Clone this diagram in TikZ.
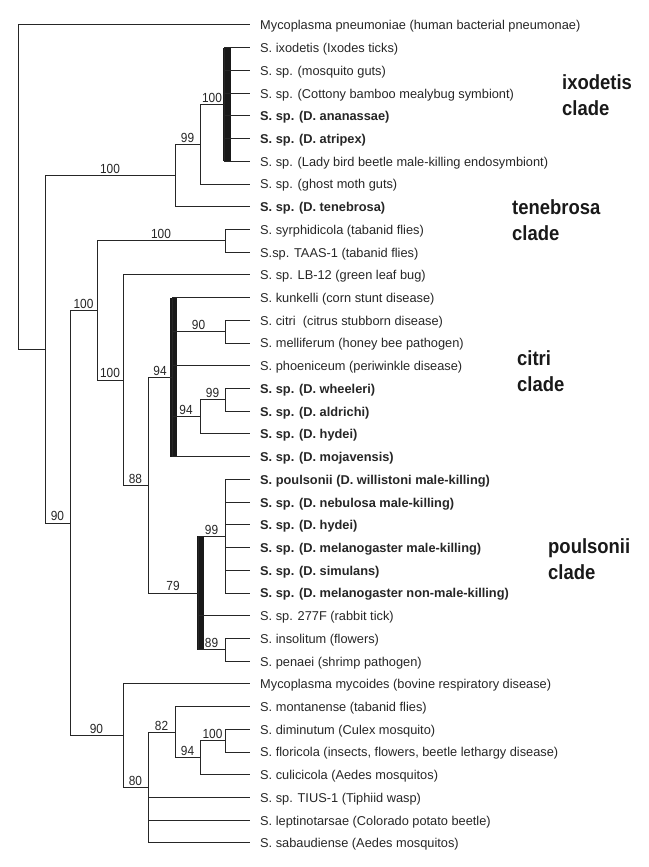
\documentclass[tikz,border=0pt]{standalone}
\usepackage{fontspec}
\setmainfont{Liberation Sans}
\newfontfamily\condfont[FakeStretch=0.9]{Liberation Sans}
\begin{document}
\begin{tikzpicture}[x=1pt,y=-22.72pt,
  br/.style={line width=1pt, draw=black!85},
  bar/.style={fill=black!90},
  leaf/.style={anchor=base west, inner sep=0pt, xshift=10pt, yshift=-4.9pt, font=\fontsize{12.8}{15}\selectfont, text=black!85},
  bleaf/.style={leaf, font=\fontsize{12.8}{15}\selectfont\bfseries},
  sup/.style={pos=0.75, above, inner sep=1.4pt, font=\condfont\fontsize{13.2}{15}\selectfont, text=black!85},
  clade/.style={anchor=west, align=left, inner sep=0pt, font=\condfont\fontsize{20.5}{26}\selectfont\bfseries, text=black!90}]
\useasboundingbox (0pt,2.28pt) rectangle (648pt,-864.72pt);
% leaf end points
\foreach \i in {1,...,37} { \coordinate (l\i) at (250,\i); }
% internal nodes
\coordinate (R) at (18, 8.135);
\coordinate (A) at (45, 15.27);
\coordinate (B) at (175, 7.625);
\coordinate (C) at (200, 6.25);
\coordinate (D) at (224, 4.5);
\coordinate (E) at (70, 22.92);
\coordinate (F) at (97, 13.5625);
\coordinate (G) at (225, 10.5);
\coordinate (H) at (123, 16.625);
\coordinate (I) at (148, 21.25);
\coordinate (J) at (172, 16.5);
\coordinate (CM) at (225, 14.5);
\coordinate (K) at (200, 18.25);
\coordinate (WA) at (225, 17.5);
\coordinate (Q) at (198, 26);
\coordinate (P) at (225, 23.5);
\coordinate (IP) at (225, 28.5);
\coordinate (Bt) at (123, 32.28);
\coordinate (O) at (148, 34.5625);
\coordinate (N) at (175, 32.125);
\coordinate (M) at (200, 33.25);
\coordinate (DF) at (225, 32.5);
% bars
\fill[bar] ([xshift=-1pt]D |- l2) rectangle ([xshift=7pt]D |- l7);
\fill[bar] ([xshift=-2pt]J |- l13) rectangle ([xshift=5pt]J |- l20);
\fill[bar] ([xshift=-1.5pt]Q |- P) rectangle ([xshift=6pt]Q |- IP);
% branches
\draw[br] (R) |- (l1);
\draw[br] (R) |- (A);
\draw[br] (A) |- node[sup]{100} (B);
\draw[br] (A) |- node[sup]{90} (E);
\draw[br] (B) |- node[sup]{99} (C);
\draw[br] (B) |- (l9);
\draw[br] (C) |- node[sup]{100} (D);
\draw[br] (C) |- (l8);
\foreach \i in {2,...,7} { \draw[br] (D) |- (l\i); }
\draw[br] (E) |- node[sup]{100} (F);
\draw[br] (E) |- node[sup]{90} (Bt);
\draw[br] (F) |- node[sup]{100} (G);
\draw[br] (F) |- node[sup]{100} (H);
\draw[br] (G) |- (l10);
\draw[br] (G) |- (l11);
\draw[br] (H) |- (l12);
\draw[br] (H) |- node[sup]{88} (I);
\draw[br] (I) |- node[sup]{94} (J);
\draw[br] (I) |- node[sup]{79} (Q);
\draw[br] (J) |- (l13);
\draw[br] (J) |- node[sup]{90} (CM);
\draw[br] (J) |- (l16);
\draw[br] (J) |- node[sup]{94} (K);
\draw[br] (J) |- (l20);
\draw[br] (CM) |- (l14);
\draw[br] (CM) |- (l15);
\draw[br] (K) |- node[sup]{99} (WA);
\draw[br] (K) |- (l19);
\draw[br] (WA) |- (l17);
\draw[br] (WA) |- (l18);
\draw[br] (Q) |- node[sup]{99} (P);
\draw[br] (Q) |- (l27);
\draw[br] (Q) |- node[sup]{89} (IP);
\foreach \i in {21,...,26} { \draw[br] (P) |- (l\i); }
\draw[br] (IP) |- (l28);
\draw[br] (IP) |- (l29);
\draw[br] (Bt) |- (l30);
\draw[br] (Bt) |- node[sup]{80} (O);
\draw[br] (O) |- node[sup]{82} (N);
\draw[br] (O) |- (l35);
\draw[br] (O) |- (l36);
\draw[br] (O) |- (l37);
\draw[br] (N) |- (l31);
\draw[br] (N) |- node[sup]{94} (M);
\draw[br] (M) |- node[sup]{100} (DF);
\draw[br] (M) |- (l34);
\draw[br] (DF) |- (l32);
\draw[br] (DF) |- (l33);
% leaf labels
\node[leaf]  (t1)  at (l1)  {Mycoplasma pneumoniae (human bacterial pneumonae)};
\node[leaf]  (t2)  at (l2)  {S. ixodetis (Ixodes ticks)};
\node[leaf]  (t3)  at (l3)  {S. sp. (mosquito guts)};
\node[leaf]  (t4)  at (l4)  {S. sp. (Cottony bamboo mealybug symbiont)};
\node[bleaf] (t5)  at (l5)  {S. sp. (D. ananassae)};
\node[bleaf] (t6)  at (l6)  {S. sp. (D. atripex)};
\node[leaf]  (t7)  at (l7)  {S. sp. (Lady bird beetle male-killing endosymbiont)};
\node[leaf]  (t8)  at (l8)  {S. sp. (ghost moth guts)};
\node[bleaf] (t9)  at (l9)  {S. sp. (D. tenebrosa)};
\node[leaf]  (t10) at (l10) {S. syrphidicola (tabanid flies)};
\node[leaf]  (t11) at (l11) {S.sp. TAAS-1 (tabanid flies)};
\node[leaf]  (t12) at (l12) {S. sp. LB-12 (green leaf bug)};
\node[leaf]  (t13) at (l13) {S. kunkelli (corn stunt disease)};
\node[leaf]  (t14) at (l14) {S. citri\ \ (citrus stubborn disease)};
\node[leaf]  (t15) at (l15) {S. melliferum (honey bee pathogen)};
\node[leaf]  (t16) at (l16) {S. phoeniceum (periwinkle disease)};
\node[bleaf] (t17) at (l17) {S. sp. (D. wheeleri)};
\node[bleaf] (t18) at (l18) {S. sp. (D. aldrichi)};
\node[bleaf] (t19) at (l19) {S. sp. (D. hydei)};
\node[bleaf] (t20) at (l20) {S. sp. (D. mojavensis)};
\node[bleaf] (t21) at (l21) {S. poulsonii (D. willistoni male-killing)};
\node[bleaf] (t22) at (l22) {S. sp. (D. nebulosa male-killing)};
\node[bleaf] (t23) at (l23) {S. sp. (D. hydei)};
\node[bleaf] (t24) at (l24) {S. sp. (D. melanogaster male-killing)};
\node[bleaf] (t25) at (l25) {S. sp. (D. simulans)};
\node[bleaf] (t26) at (l26) {S. sp. (D. melanogaster non-male-killing)};
\node[leaf]  (t27) at (l27) {S. sp. 277F (rabbit tick)};
\node[leaf]  (t28) at (l28) {S. insolitum (flowers)};
\node[leaf]  (t29) at (l29) {S. penaei (shrimp pathogen)};
\node[leaf]  (t30) at (l30) {Mycoplasma mycoides (bovine respiratory disease)};
\node[leaf]  (t31) at (l31) {S. montanense (tabanid flies)};
\node[leaf]  (t32) at (l32) {S. diminutum (Culex mosquito)};
\node[leaf]  (t33) at (l33) {S. floricola (insects, flowers, beetle lethargy disease)};
\node[leaf]  (t34) at (l34) {S. culicicola (Aedes mosquitos)};
\node[leaf]  (t35) at (l35) {S. sp. TIUS-1 (Tiphiid wasp)};
\node[leaf]  (t36) at (l36) {S. leptinotarsae (Colorado potato beetle)};
\node[leaf]  (t37) at (l37) {S. sabaudiense (Aedes mosquitos)};
% clade labels
\node[clade] (c1) at (562, 4.08)  {ixodetis\\clade};
\node[clade] (c2) at (512, 9.58)  {tenebrosa\\clade};
\node[clade] (c3) at (517, 16.22) {citri\\clade};
\node[clade] (c4) at (548, 24.5)  {poulsonii\\clade};
\end{tikzpicture}
\end{document}
